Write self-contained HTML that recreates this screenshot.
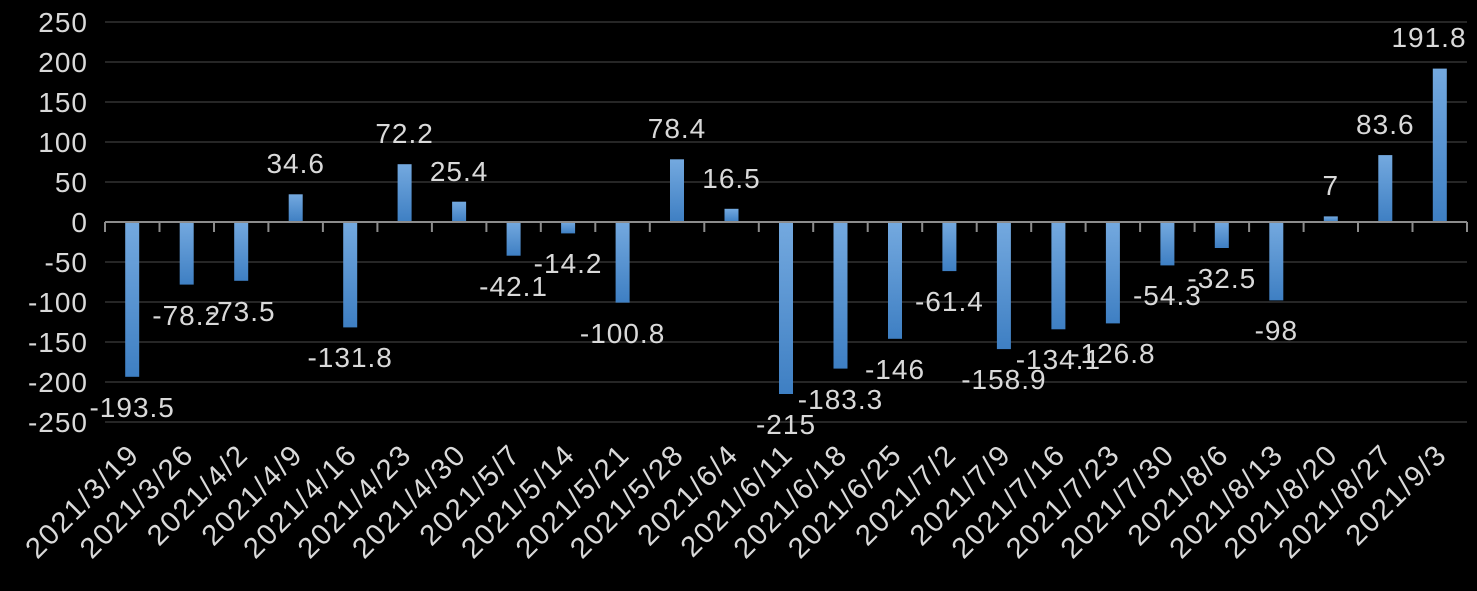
<!DOCTYPE html>
<html><head><meta charset="utf-8"><style>
html,body{margin:0;padding:0;background:#000;}
svg{display:block;}
text{font-family:"Liberation Sans","DejaVu Sans",sans-serif;fill:#d9d9d9;}
</style></head><body>
<svg width="1477" height="591" xmlns="http://www.w3.org/2000/svg">
<defs><linearGradient id="g" x1="0" y1="0" x2="0" y2="1">
<stop offset="0" stop-color="#74a9df"/><stop offset="1" stop-color="#3e7fc3"/></linearGradient></defs>
<g stroke="#262626" stroke-width="2">
<line x1="105" x2="1467" y1="22" y2="22"/><line x1="105" x2="1467" y1="62" y2="62"/><line x1="105" x2="1467" y1="102" y2="102"/><line x1="105" x2="1467" y1="142" y2="142"/><line x1="105" x2="1467" y1="182" y2="182"/><line x1="105" x2="1467" y1="262" y2="262"/><line x1="105" x2="1467" y1="302" y2="302"/><line x1="105" x2="1467" y1="342" y2="342"/><line x1="105" x2="1467" y1="382" y2="382"/><line x1="105" x2="1467" y1="422" y2="422"/>
</g>
<g font-size="28" text-anchor="end" letter-spacing="1">
<text x="88" y="32">250</text><text x="88" y="72">200</text><text x="88" y="112">150</text><text x="88" y="152">100</text><text x="88" y="192">50</text><text x="88" y="232">0</text><text x="88" y="272">-50</text><text x="88" y="312">-100</text><text x="88" y="352">-150</text><text x="88" y="392">-200</text><text x="88" y="432">-250</text>
</g>
<g fill="url(#g)">
<rect x="125.2" y="222" width="14" height="154.8"/>
<rect x="179.7" y="222" width="14" height="62.6"/>
<rect x="234.2" y="222" width="14" height="58.8"/>
<rect x="288.7" y="194.3" width="14" height="27.7"/>
<rect x="343.2" y="222" width="14" height="105.4"/>
<rect x="397.6" y="164.2" width="14" height="57.8"/>
<rect x="452.1" y="201.7" width="14" height="20.3"/>
<rect x="506.6" y="222" width="14" height="33.7"/>
<rect x="561.1" y="222" width="14" height="11.4"/>
<rect x="615.6" y="222" width="14" height="80.6"/>
<rect x="670" y="159.3" width="14" height="62.7"/>
<rect x="724.5" y="208.8" width="14" height="13.2"/>
<rect x="779" y="222" width="14" height="172"/>
<rect x="833.5" y="222" width="14" height="146.6"/>
<rect x="888" y="222" width="14" height="116.8"/>
<rect x="942.4" y="222" width="14" height="49.1"/>
<rect x="996.9" y="222" width="14" height="127.1"/>
<rect x="1051.4" y="222" width="14" height="107.3"/>
<rect x="1105.9" y="222" width="14" height="101.4"/>
<rect x="1160.4" y="222" width="14" height="43.4"/>
<rect x="1214.8" y="222" width="14" height="26"/>
<rect x="1269.3" y="222" width="14" height="78.4"/>
<rect x="1323.8" y="216.4" width="14" height="5.6"/>
<rect x="1378.3" y="155.1" width="14" height="66.9"/>
<rect x="1432.8" y="68.6" width="14" height="153.4"/>
</g>
<g stroke="#8c8c8c" stroke-width="2">
<line x1="105" x2="1467" y1="222" y2="222"/>
<line x1="105" x2="105" y1="222" y2="232"/><line x1="159.5" x2="159.5" y1="222" y2="232"/><line x1="214" x2="214" y1="222" y2="232"/><line x1="268.4" x2="268.4" y1="222" y2="232"/><line x1="322.9" x2="322.9" y1="222" y2="232"/><line x1="377.4" x2="377.4" y1="222" y2="232"/><line x1="431.9" x2="431.9" y1="222" y2="232"/><line x1="486.4" x2="486.4" y1="222" y2="232"/><line x1="540.8" x2="540.8" y1="222" y2="232"/><line x1="595.3" x2="595.3" y1="222" y2="232"/><line x1="649.8" x2="649.8" y1="222" y2="232"/><line x1="704.3" x2="704.3" y1="222" y2="232"/><line x1="758.8" x2="758.8" y1="222" y2="232"/><line x1="813.2" x2="813.2" y1="222" y2="232"/><line x1="867.7" x2="867.7" y1="222" y2="232"/><line x1="922.2" x2="922.2" y1="222" y2="232"/><line x1="976.7" x2="976.7" y1="222" y2="232"/><line x1="1031.2" x2="1031.2" y1="222" y2="232"/><line x1="1085.6" x2="1085.6" y1="222" y2="232"/><line x1="1140.1" x2="1140.1" y1="222" y2="232"/><line x1="1194.6" x2="1194.6" y1="222" y2="232"/><line x1="1249.1" x2="1249.1" y1="222" y2="232"/><line x1="1303.6" x2="1303.6" y1="222" y2="232"/><line x1="1358" x2="1358" y1="222" y2="232"/><line x1="1412.5" x2="1412.5" y1="222" y2="232"/><line x1="1467" x2="1467" y1="222" y2="232"/>
</g>
<g font-size="28" text-anchor="middle" letter-spacing="1">
<text x="132.2" y="417">-193.5</text>
<text x="186.7" y="325">-78.2</text>
<text x="241.2" y="321">-73.5</text>
<text x="295.7" y="173">34.6</text>
<text x="350.2" y="367">-131.8</text>
<text x="404.6" y="143">72.2</text>
<text x="459.1" y="181">25.4</text>
<text x="513.6" y="296">-42.1</text>
<text x="568.1" y="273">-14.2</text>
<text x="622.6" y="343">-100.8</text>
<text x="677" y="138">78.4</text>
<text x="731.5" y="188">16.5</text>
<text x="786" y="434">-215</text>
<text x="840.5" y="409">-183.3</text>
<text x="895" y="379">-146</text>
<text x="949.4" y="311">-61.4</text>
<text x="1003.9" y="389">-158.9</text>
<text x="1058.4" y="369">-134.1</text>
<text x="1112.9" y="363">-126.8</text>
<text x="1167.4" y="305">-54.3</text>
<text x="1221.8" y="288">-32.5</text>
<text x="1276.3" y="340">-98</text>
<text x="1330.8" y="195">7</text>
<text x="1385.3" y="134">83.6</text>
<text x="1429" y="47">191.8</text>
</g>
<g font-size="29" text-anchor="end" letter-spacing="2">
<text transform="translate(141.2,456) rotate(-45)">2021/3/19</text>
<text transform="translate(195.7,456) rotate(-45)">2021/3/26</text>
<text transform="translate(250.2,456) rotate(-45)">2021/4/2</text>
<text transform="translate(304.7,456) rotate(-45)">2021/4/9</text>
<text transform="translate(359.2,456) rotate(-45)">2021/4/16</text>
<text transform="translate(413.6,456) rotate(-45)">2021/4/23</text>
<text transform="translate(468.1,456) rotate(-45)">2021/4/30</text>
<text transform="translate(522.6,456) rotate(-45)">2021/5/7</text>
<text transform="translate(577.1,456) rotate(-45)">2021/5/14</text>
<text transform="translate(631.6,456) rotate(-45)">2021/5/21</text>
<text transform="translate(686,456) rotate(-45)">2021/5/28</text>
<text transform="translate(740.5,456) rotate(-45)">2021/6/4</text>
<text transform="translate(795,456) rotate(-45)">2021/6/11</text>
<text transform="translate(849.5,456) rotate(-45)">2021/6/18</text>
<text transform="translate(904,456) rotate(-45)">2021/6/25</text>
<text transform="translate(958.4,456) rotate(-45)">2021/7/2</text>
<text transform="translate(1012.9,456) rotate(-45)">2021/7/9</text>
<text transform="translate(1067.4,456) rotate(-45)">2021/7/16</text>
<text transform="translate(1121.9,456) rotate(-45)">2021/7/23</text>
<text transform="translate(1176.4,456) rotate(-45)">2021/7/30</text>
<text transform="translate(1230.8,456) rotate(-45)">2021/8/6</text>
<text transform="translate(1285.3,456) rotate(-45)">2021/8/13</text>
<text transform="translate(1339.8,456) rotate(-45)">2021/8/20</text>
<text transform="translate(1394.3,456) rotate(-45)">2021/8/27</text>
<text transform="translate(1448.8,456) rotate(-45)">2021/9/3</text>
</g>
</svg>
</body></html>
